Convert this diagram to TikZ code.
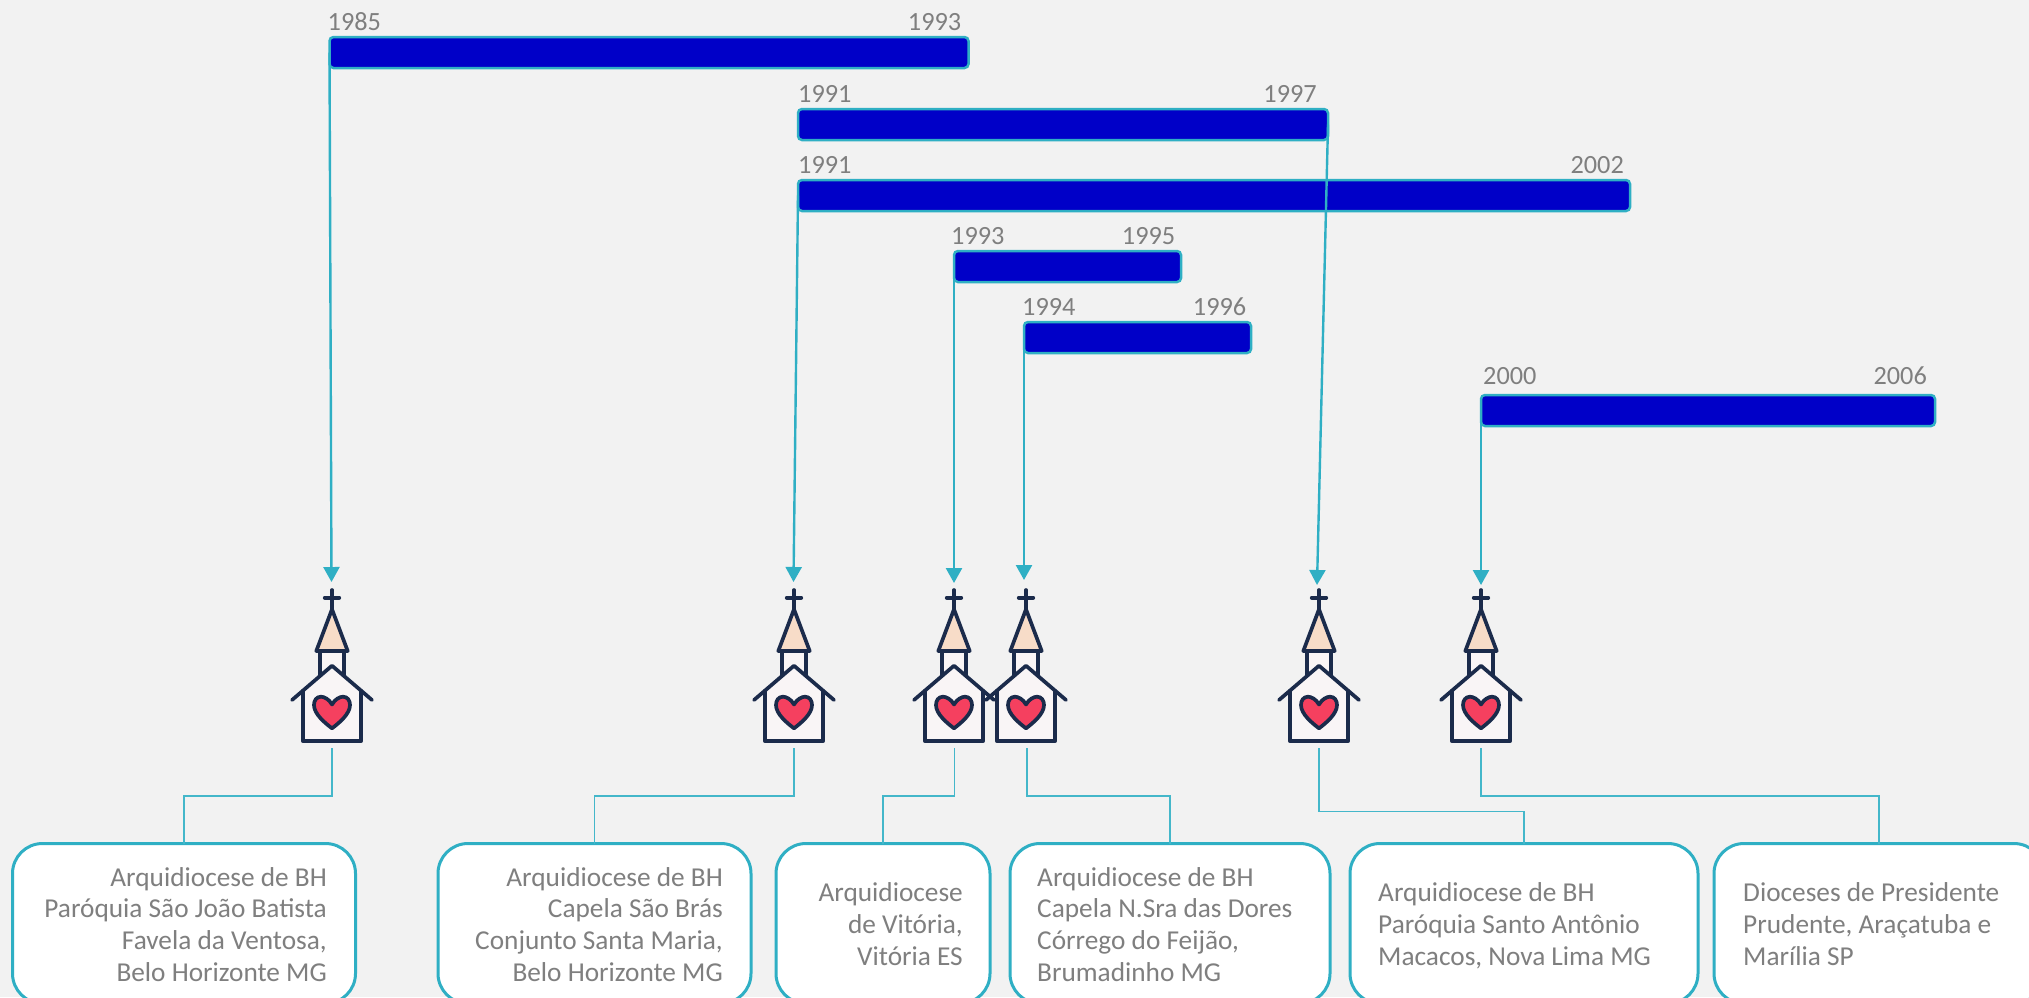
\documentclass[tikz,border=0pt]{standalone}
\usepackage{fontspec}
\setmainfont{Carlito}
\usetikzlibrary{arrows.meta}
\definecolor{bgc}{HTML}{F2F2F2}
\definecolor{teal1}{HTML}{2FAFC4}
\definecolor{barc}{HTML}{0000C8}
\definecolor{txtc}{HTML}{7F7F7F}
\definecolor{navy}{HTML}{1B2B4B}
\definecolor{spire}{HTML}{F7DCC8}
\definecolor{wallc}{HTML}{F9F5F6}
\definecolor{heartc}{HTML}{F5405F}
\tikzset{
 x=1pt,y=-1pt,
 barbox/.style={draw=teal1,fill=barc,line width=2.5pt,rounded corners=4pt,inner sep=0pt,outer sep=0pt,anchor=north west},
 yearl/.style={text=txtc,font=\fontsize{26.3}{30}\selectfont,inner sep=0pt,anchor=base west},
 yearr/.style={text=txtc,font=\fontsize{26.3}{30}\selectfont,inner sep=0pt,anchor=base east},
 infobox/.style={draw=teal1,fill=white,line width=3pt,rounded corners=30pt,inner sep=0pt,outer sep=0pt,anchor=north west},
 infotext/.style={text=txtc,font=\fontsize{27.3}{31.7}\selectfont,inner sep=0pt},
 wire/.style={draw=teal1!90!white,line width=1.3pt},
 arrowline/.style={draw=teal1,line width=2.4pt,-{Triangle[width=16pt,length=15pt]}},
 church/.pic={
  \begin{scope}[line width=3.7pt,draw=navy,line join=round,line cap=round]
   \draw (0,0)--(0,19) (-7.3,7.7)--(7.3,7.7);
   \draw[fill=wallc] (-11.7,61) rectangle (11.7,88);
   \draw[fill=spire] (0,19.3)--(15.7,61)--(-15.7,61)--cycle;
   \fill[wallc] (-29.3,101)--(0,75.7)--(29.3,101)--(29.3,151)--(-29.3,151)--cycle;
   \draw (-40,110)--(0,75.7)--(40,110);
   \draw (-29.3,101)--(-29.3,151)--(29.3,151)--(29.3,101);
   \draw[fill=heartc] (0,114.5) .. controls (3,109) and (8,106.7) .. (11,106.7)
     .. controls (15.5,106.7) and (18,110.5) .. (18,115)
     .. controls (18,124) and (7,133) .. (0,138.3)
     .. controls (-7,133) and (-18,124) .. (-18,115)
     .. controls (-18,110.5) and (-15.5,106.7) .. (-11,106.7)
     .. controls (-8,106.7) and (-3,109) .. (0,114.5) -- cycle;
  \end{scope}
 }
}
\begin{document}
\begin{tikzpicture}
\useasboundingbox (0,0) rectangle (2029,997);
\fill[bgc] (0,0) rectangle (2029,997);
% bars
\node[barbox,minimum width=639pt,minimum height=31pt] (bar1) at (329.5,37) {};
\node[barbox,minimum width=530pt,minimum height=31pt] (bar2) at (798,109) {};
\node[barbox,minimum width=832pt,minimum height=31pt] (bar3) at (798,180) {};
\node[barbox,minimum width=227pt,minimum height=31pt] (bar4) at (954,251) {};
\node[barbox,minimum width=227pt,minimum height=31pt] (bar5) at (1024,322) {};
\node[barbox,minimum width=454pt,minimum height=31pt] (bar6) at (1481,395) {};
% years
\node[yearl] (y1a) at (327.5,30) {1985};
\node[yearr] (y1b) at (961.5,30) {1993};
\node[yearl] (y2a) at (798,102) {1991};
\node[yearr] (y2b) at (1317,102) {1997};
\node[yearl] (y3a) at (798,173) {1991};
\node[yearr] (y3b) at (1624,173) {2002};
\node[yearl] (y4a) at (951,244) {1993};
\node[yearr] (y4b) at (1175.5,244) {1995};
\node[yearl] (y5a) at (1022,315) {1994};
\node[yearr] (y5b) at (1246.5,315) {1996};
\node[yearl] (y6a) at (1483,384.5) {2000};
\node[yearr] (y6b) at (1927,384.5) {2006};
% churches
\pic at (332,590) {church};
\pic at (794,590) {church};
\pic at (954,590) {church};
\pic at (1026,590) {church};
\pic at (1319,590) {church};
\pic at (1481,590) {church};
% connector endpoints
\coordinate (t1) at (331.5,582);
\coordinate (t2) at (793.5,582);
\coordinate (t3) at (954,583);
\coordinate (t4) at (1024,580);
\coordinate (t5) at (1317,585);
\coordinate (t6) at (1481,585);
\coordinate (f1) at (332,748);
\coordinate (f2) at (794,748);
\coordinate (f3) at (954.4,748);
\coordinate (f4) at (1027,748);
\coordinate (f5) at (1319,748);
\coordinate (f6) at (1481,748);
% arrows
\draw[arrowline] (bar1.west) -- (t1);
\draw[arrowline] (bar3.west) -- (t2);
\draw[arrowline] (bar4.west) -- (t3);
\draw[arrowline] (bar5.west) -- (t4);
\draw[arrowline] (bar2.east) -- (t5);
\draw[arrowline] (bar6.west) -- (t6);
% info boxes
\node[infobox,minimum width=343pt,minimum height=160pt] (box1) at (12.5,843.5) {};
\node[infobox,minimum width=313pt,minimum height=160pt] (box2) at (438,843.5) {};
\node[infobox,minimum width=214pt,minimum height=160pt] (box3) at (776,843.5) {};
\node[infobox,minimum width=320pt,minimum height=160pt] (box4) at (1010,843.5) {};
\node[infobox,minimum width=348pt,minimum height=160pt] (box5) at (1350,843.5) {};
\node[infobox,minimum width=330pt,minimum height=160pt] (box6) at (1714,843.5) {};
% wires
\draw[wire] (f1) |- (box1.north |- 0,796) -- (box1.north);
\draw[wire] (f2) |- (box2.north |- 0,796) -- (box2.north);
\draw[wire] (f3) |- (box3.north |- 0,796) -- (box3.north);
\draw[wire] (f4) |- (box4.north |- 0,796) -- (box4.north);
\draw[wire] (f5) |- (box5.north |- 0,811.5) -- (box5.north);
\draw[wire] (f6) |- (box6.north |- 0,796) -- (box6.north);
% texts
\node[infotext,align=right,anchor=north east] (txt1) at (327,867) {Arquidiocese de BH\\Paróquia São João Batista\\Favela da Ventosa,\\Belo Horizonte MG};
\node[infotext,align=right,anchor=north east] (txt2) at (723,867) {Arquidiocese de BH\\Capela São Brás\\Conjunto Santa Maria,\\Belo Horizonte MG};
\node[infotext,align=right,anchor=north east] (txt3) at (963,882.5) {Arquidiocese\\de Vitória,\\Vitória ES};
\node[infotext,align=left,anchor=north west] (txt4) at (1037,867) {Arquidiocese de BH\\Capela N.Sra das Dores\\Córrego do Feijão,\\Brumadinho MG};
\node[infotext,align=left,anchor=north west] (txt5) at (1378,882.5) {Arquidiocese de BH\\Paróquia Santo Antônio\\Macacos, Nova Lima MG};
\node[infotext,align=left,anchor=north west] (txt6) at (1743,882.5) {Dioceses de Presidente\\Prudente, Araçatuba e\\Marília SP};
\end{tikzpicture}
\end{document}
